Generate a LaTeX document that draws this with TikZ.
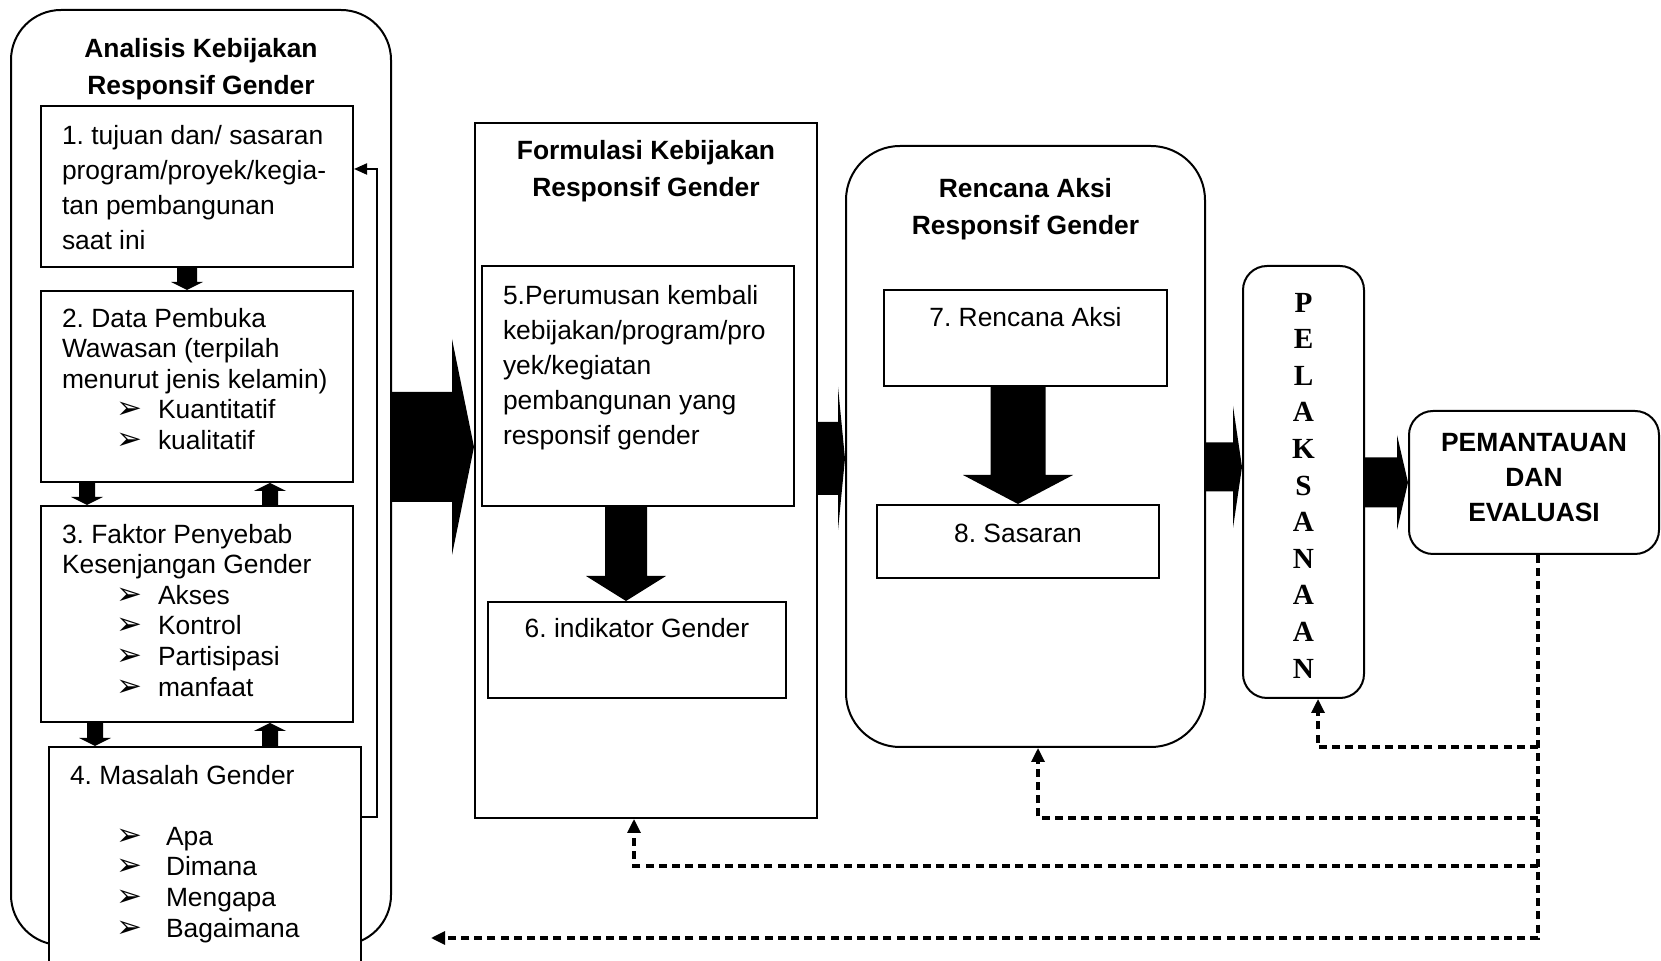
\documentclass[tikz,border=0pt]{standalone}
\usepackage{fontspec}
\setmainfont{Liberation Sans}
\newfontfamily\timesf{Liberation Serif}
\newfontfamily\dingf{DejaVu Sans}
\usepackage{tikz}
\usetikzlibrary{calc,arrows.meta}
\frenchspacing

% list items with an arrowhead bullet
\newcommand{\itm}[1]{\hspace*{27pt}\makebox[21pt][l]{\dingf\fontsize{15.5}{15}\selectfont ➢}#1}
\newcommand{\itmb}[1]{\hspace*{23pt}\makebox[25pt][l]{\dingf\fontsize{15.5}{15}\selectfont ➢}#1}

% fat block arrows: tail, tip, shaft half width, head half width, head length
\newcommand{\harrow}[5]{%
  \fill let \p1=(#1), \p2=(#2) in (\x1,\y2+#3) -- (\x2-#5,\y2+#3) -- (\x2-#5,\y2+#4)
    -- (\x2,\y2) -- (\x2-#5,\y2-#4) -- (\x2-#5,\y2-#3) -- (\x1,\y2-#3) -- cycle;}
\newcommand{\varrow}[5]{%
  \fill let \p1=(#1), \p2=(#2) in (\x2-#3,\y1) -- (\x2-#3,\y2+#5) -- (\x2-#4,\y2+#5)
    -- (\x2,\y2) -- (\x2+#4,\y2+#5) -- (\x2+#3,\y2+#5) -- (\x2+#3,\y1) -- cycle;}

\begin{document}
\begin{tikzpicture}[x=0.5pt, y=-0.5pt, line width=1pt,
    box/.style={draw, rectangle, inner sep=0pt},
    rbox/.style={draw, rectangle, rounded corners=#1, inner sep=0pt},
    txt/.style={inner sep=0pt, align=left, font=\fontsize{13.2}{15.3}\selectfont},
    txtwide/.style={txt, font=\fontsize{13.2}{17.5}\selectfont},
    ttl/.style={inner sep=0pt, align=center, font=\bfseries\fontsize{13.2}{18.5}\selectfont},
    fbarrow/.style={-{Triangle[length=6.5pt,width=5.5pt]}},
    dashln/.style={line width=1.6pt, dash pattern=on 4pt off 2.6pt, -{Triangle[length=7pt,width=6.5pt]}}]
    \useasboundingbox (0,0) rectangle (1661,961);

    % the five stages
    \node[rbox=25pt, minimum width=190pt, minimum height=467.5pt] (anal) at (201,477.5) {};
    \node[box, minimum width=171pt, minimum height=347.5pt] (form) at (646,470.5) {};
    \node[rbox=27pt, minimum width=179.5pt, minimum height=300.5pt] (renc) at (1025.5,446.5) {};
    \node[rbox=12pt, minimum width=60.5pt, minimum height=216pt] (pel) at (1303.5,482) {};
    \node[rbox=12pt, minimum width=125pt, minimum height=71.5pt] (pem) at (1534,482.5) {};

    \node[ttl, anchor=north] (tanal) at ([yshift=-14pt]anal.north) {Analisis Kebijakan\\Responsif Gender};
    \node[ttl, anchor=north] (tform) at ([yshift=-8.5pt]form.north) {Formulasi Kebijakan\\Responsif Gender};
    \node[ttl, anchor=north] (trenc) at ([yshift=-16pt]renc.north) {Rencana Aksi\\Responsif Gender};
    \node[inner sep=0pt, align=center, font=\timesf\bfseries\fontsize{14.6}{18.3}\selectfont] (tpel)
        at ([yshift=-1.75pt]pel.center) {P\\E\\L\\A\\K\\S\\A\\N\\A\\A\\N};
    \node[ttl, font=\bfseries\fontsize{13.2}{17.5}\selectfont] (tpem) at ([yshift=2.25pt]pem.center) {PEMANTAUAN\\DAN\\EVALUASI};

    % steps 1-4
    \node[box, fill=white, minimum width=156pt, minimum height=80.5pt] (b1) at (197,186.5) {};
    \node[box, fill=white, minimum width=156pt, minimum height=95.5pt] (b2) at (197,386.5) {};
    \node[box, fill=white, minimum width=156pt, minimum height=108pt] (b3) at (197,614) {};
    \node[box, fill=white, minimum width=156pt, minimum height=119pt] (b4) at (205,866) {};

    \node[txtwide, anchor=north west] (t1) at ([xshift=10.5pt,yshift=-9.5pt]b1.north west)
        {1. tujuan dan/ sasaran\\program/proyek/kegia-\\tan pembangunan\\saat ini};
    \node[txt, anchor=north west] (t2) at ([xshift=10.5pt,yshift=-8.5pt]b2.north west)
        {2. Data Pembuka\\Wawasan (terpilah\\menurut jenis kelamin)\\\itm{Kuantitatif}\\\itm{kualitatif}};
    \node[txt, anchor=north west] (t3) at ([xshift=10.5pt,yshift=-9pt]b3.north west)
        {3. Faktor Penyebab\\Kesenjangan Gender\\\itm{Akses}\\\itm{Kontrol}\\\itm{Partisipasi}\\\itm{manfaat}};
    \node[txt, anchor=north west] (t4) at ([xshift=10.5pt,yshift=-9pt]b4.north west)
        {4. Masalah Gender\\[15.3pt]\itmb{Apa}\\\itmb{Dimana}\\\itmb{Mengapa}\\\itmb{Bagaimana}};

    \varrow{b1.south}{[xshift=-5pt]b2.north}{5pt}{8pt}{4pt}
    \varrow{b2.south}{[xshift=-55pt]b3.north}{4pt}{8pt}{4pt}
    \varrow{b3.north}{[xshift=36.5pt]b2.south}{4pt}{8pt}{-4pt}
    \varrow{b3.south}{[xshift=-55pt]b4.north}{4pt}{8pt}{4pt}
    \varrow{b4.north}{[xshift=36.5pt]b3.south}{4pt}{8pt}{-4pt}
    \draw[fbarrow] ([yshift=-35.5pt]b4.north east) -- ++(15,0) |- ([yshift=-32pt]b1.north east);

    % steps 5-6
    \node[box, minimum width=156pt, minimum height=120pt] (b5) at (638,386) {};
    \node[box, minimum width=149pt, minimum height=48pt] (b6) at (637,650) {};
    \node[txtwide, anchor=north west] (t5) at ([xshift=10.5pt,yshift=-9.5pt]b5.north west)
        {5.Perumusan kembali\\kebijakan/program/pro\\yek/kegiatan\\pembangunan yang\\responsif gender};
    \node[txt, anchor=north] (t6) at ([yshift=-8pt]b6.north) {6. indikator Gender};
    \varrow{b5.south}{[xshift=-5.5pt]b6.north}{10.5pt}{20pt}{12.5pt}

    % steps 7-8
    \node[box, minimum width=141.5pt, minimum height=48pt] (b7) at (1025.5,338) {};
    \node[box, minimum width=141pt, minimum height=36.5pt] (b8) at (1018,541.5) {};
    \node[txt, anchor=north] (t7) at ([yshift=-8.5pt]b7.north) {7. Rencana Aksi};
    \node[txt, anchor=north] (t8) at ([yshift=-9.5pt]b8.north) {8. Sasaran};
    \varrow{b7.south}{b8.north}{13.75pt}{27.5pt}{14.5pt}

    % big arrows between the stages
    \harrow{anal.east}{[yshift=11.75pt]form.west}{27.5pt}{54pt}{11pt}
    \harrow{form.east}{[yshift=-6pt]renc.west}{18.25pt}{35.75pt}{3.5pt}
    \harrow{renc.east}{[yshift=7.5pt]pel.west}{12.25pt}{30.5pt}{4.5pt}
    \harrow{pel.east}{pem.west}{12.5pt}{23.75pt}{5.5pt}

    % feedback from monitoring
    \coordinate (trunk) at (1538,938);
    \coordinate (fbend) at (431,938);
    \draw[dashln] ([xshift=2pt]pem.south) -- (trunk) -- (fbend);
    \draw[dashln] ($(trunk)+(0,-191)$) -| ([xshift=7.25pt]pel.south);
    \draw[dashln] ($(trunk)+(0,-120)$) -| ([xshift=6.25pt]renc.south);
    \draw[dashln] ($(trunk)+(0,-72)$) -| ([xshift=-6pt]form.south);
\end{tikzpicture}
\end{document}
